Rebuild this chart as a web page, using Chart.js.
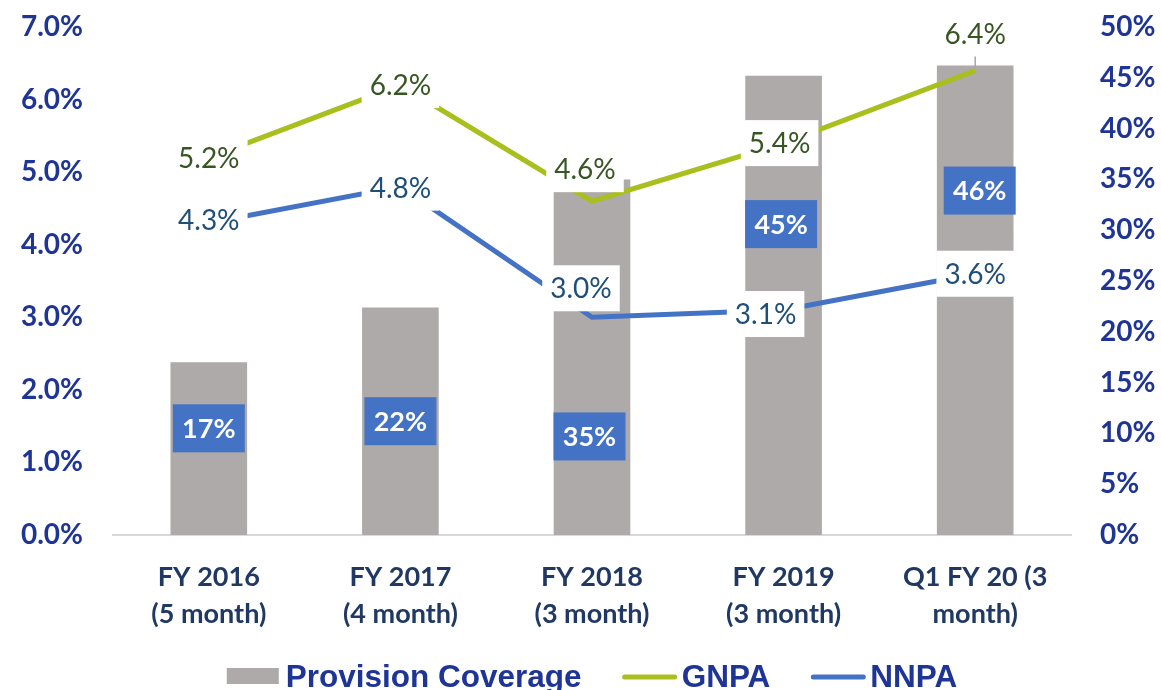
<!DOCTYPE html>
<html>
<head>
<meta charset="utf-8">
<script src="https://cdn.jsdelivr.net/npm/chart.js@4.4.1/dist/chart.umd.min.js"></script>
<style>
  html, body { margin: 0; padding: 0; background: #fff; }
  #wrap { width: 1161px; height: 690px; }
</style>
</head>
<body>
<div id="wrap"><canvas id="chart" width="1161" height="690"></canvas></div>
<script>
// data
const categories = [
    ['FY 2016', '(5 month)'],
    ['FY 2017', '(4 month)'],
    ['FY 2018', '(3 month)'],
    ['FY 2019', '(3 month)'],
    ['Q1 FY 20 (3', 'month)']
];
const provisionCoverage = [17.0, 22.4, 35.0, 45.2, 46.2];
const gnpa = [5.2, 6.2, 4.6, 5.4, 6.4];
const nnpa = [4.3, 4.8, 3.0, 3.1, 3.6];
const leftTickLabels = ['0.0%', '1.0%', '2.0%', '3.0%', '4.0%', '5.0%', '6.0%', '7.0%'];
const rightTickLabels = ['0%', '5%', '10%', '15%', '20%', '25%', '30%', '35%', '40%', '45%', '50%'];

const tickFont = { family: 'Lato', size: 28, weight: 'bold' };

// labels on top of everything, like the excel data labels
const valueLabels = {
    id: 'valueLabels',
    afterDatasetsDraw(chart, args, opts) {
        const ctx = chart.ctx;
        ctx.save();
        ctx.textAlign = 'center';
        ctx.textBaseline = 'alphabetic';

        // line labels with a white box behind
        opts.lines.forEach(cfg => {
            const ds = chart.data.datasets[cfg.index];
            const meta = chart.getDatasetMeta(cfg.index);
            ctx.font = '400 28px Lato';
            meta.data.forEach((pt, i) => {
                const text = ds.data[i].toFixed(1) + '%';
                const cx = pt.x + cfg.offsets[i][0];
                const cy = pt.y + cfg.offsets[i][1];
                const w = ctx.measureText(text).width + 16;
                const h = 46;
                ctx.fillStyle = '#fff';
                ctx.fillRect(cx - w / 2, cy - h / 2, w, h);
                if (cfg.leader && cfg.leader[i]) {
                    ctx.strokeStyle = '#A6A6A6';
                    ctx.lineWidth = 1.5;
                    ctx.beginPath();
                    ctx.moveTo(pt.x, cy + h / 2);
                    ctx.lineTo(pt.x, pt.y - 2);
                    ctx.stroke();
                }
                ctx.fillStyle = cfg.color;
                ctx.fillText(text, cx, cy + 28 * 0.358);
            });
        });

        // bar labels in blue boxes
        const bars = chart.getDatasetMeta(opts.bars.index);
        const barData = chart.data.datasets[opts.bars.index].data;
        const yR = chart.scales.yRight;
        ctx.font = 'bold 27px Lato';
        bars.data.forEach((bar, i) => {
            const cx = bar.x + opts.bars.dx[i];
            const cy = yR.getPixelForValue(opts.bars.at[i]);
            ctx.fillStyle = '#4472C4';
            ctx.fillRect(cx - 36, cy - 24, 72, 48);
            ctx.fillStyle = '#fff';
            ctx.fillText(Math.round(barData[i]) + '%', cx, cy + 27 * 0.358);
        });
        ctx.restore();
    },
    afterDraw(chart) {
        // legend at the bottom, cut off like the original
        const ctx = chart.ctx;
        const area = chart.chartArea;
        ctx.save();
        ctx.font = 'bold 31.5px "Liberation Sans", Arial, sans-serif';
        const items = chart.data.datasets.map(ds => ({
            text: ds.label,
            w: ctx.measureText(ds.label).width,
            bar: ds.type === 'bar',
            color: ds.type === 'bar' ? ds.backgroundColor : ds.borderColor
        }));
        const mark = 54, gap = 5, spacing = 41;
        let total = spacing * (items.length - 1);
        items.forEach(it => { total += mark + gap + it.w; });
        let x = (area.left + area.right) / 2 - total / 2;
        const base = chart.height - 3;
        items.forEach(it => {
            if (it.bar) {
                ctx.fillStyle = it.color;
                ctx.fillRect(x, base - 19, mark - 2, 16);
            } else {
                ctx.strokeStyle = it.color;
                ctx.lineWidth = 5;
                ctx.lineCap = 'round';
                ctx.beginPath();
                ctx.moveTo(x + 2, base - 10);
                ctx.lineTo(x + mark - 2, base - 10);
                ctx.stroke();
            }
            ctx.fillStyle = '#1F3596';
            ctx.textAlign = 'left';
            ctx.textBaseline = 'alphabetic';
            ctx.fillText(it.text, x + mark + gap, base);
            x += mark + gap + it.w + spacing;
        });
        ctx.restore();
    }
};

// keep the tick padding from pushing the plot area down
function fixAxis(width) {
    return function (scale) {
        scale.width = width;
        scale.paddingTop = 0;
        scale.paddingBottom = 0;
    };
}

new Chart(document.getElementById('chart'), {
    data: {
        labels: categories,
        datasets: [
            {
                type: 'bar',
                label: 'Provision Coverage',
                data: provisionCoverage,
                yAxisID: 'yRight',
                backgroundColor: '#AEAAAA',
                barPercentage: 0.4,
                categoryPercentage: 1,
                order: 3
            },
            {
                type: 'line',
                label: 'GNPA',
                data: gnpa,
                yAxisID: 'yLeft',
                borderColor: '#A8BF1E',
                borderWidth: 5,
                pointRadius: 0,
                tension: 0,
                order: 1
            },
            {
                type: 'line',
                label: 'NNPA',
                data: nnpa,
                yAxisID: 'yLeft',
                borderColor: '#4472C4',
                borderWidth: 5,
                pointRadius: 0,
                tension: 0,
                order: 2
            }
        ]
    },
    options: {
        responsive: false,
        animation: false,
        devicePixelRatio: 1,
        layout: { padding: { top: 27, left: 0, right: 0, bottom: 0 } },
        plugins: {
            legend: { display: false },
            tooltip: { enabled: false },
            valueLabels: {
                lines: [
                    { index: 1, color: '#375623', offsets: [[0, 0], [0, 0], [-7, -32], [-4, 0], [0, -37]], leader: [false, false, false, false, true] },
                    { index: 2, color: '#1F4E79', offsets: [[0, -3], [0, 1], [-11, -29], [-18, 4], [0, 0]] }
                ],
                bars: { index: 0, at: [10.5, 11.2, 9.7, 30.6, 33.9], dx: [0, 0, -2.5, -2.5, 4.5] }
            }
        },
        scales: {
            x: {
                grid: { display: false, drawTicks: false },
                border: { display: true, color: '#D9D9D9', width: 2 },
                ticks: {
                    font: { family: 'Lato', size: 27, weight: 'bold', lineHeight: 1.4 },
                    color: '#1F3864',
                    padding: 23,
                    maxRotation: 0,
                    autoSkip: false
                },
                afterFit(scale) { scale.height = 155; }
            },
            yLeft: {
                position: 'left',
                min: 0,
                max: 7,
                grid: { display: false, drawTicks: false },
                border: { display: false },
                ticks: {
                    stepSize: 1,
                    font: tickFont,
                    color: '#1F3596',
                    padding: 30,
                    callback: (v, i) => leftTickLabels[i]
                },
                afterFit: fixAxis(113)
            },
            yRight: {
                position: 'right',
                min: 0,
                max: 50,
                grid: { display: false, drawTicks: false },
                border: { display: false },
                ticks: {
                    stepSize: 5,
                    font: tickFont,
                    color: '#1F3596',
                    padding: 29,
                    callback: (v, i) => rightTickLabels[i]
                },
                afterFit: fixAxis(90)
            }
        }
    },
    plugins: [valueLabels]
});
</script>
</body>
</html>
